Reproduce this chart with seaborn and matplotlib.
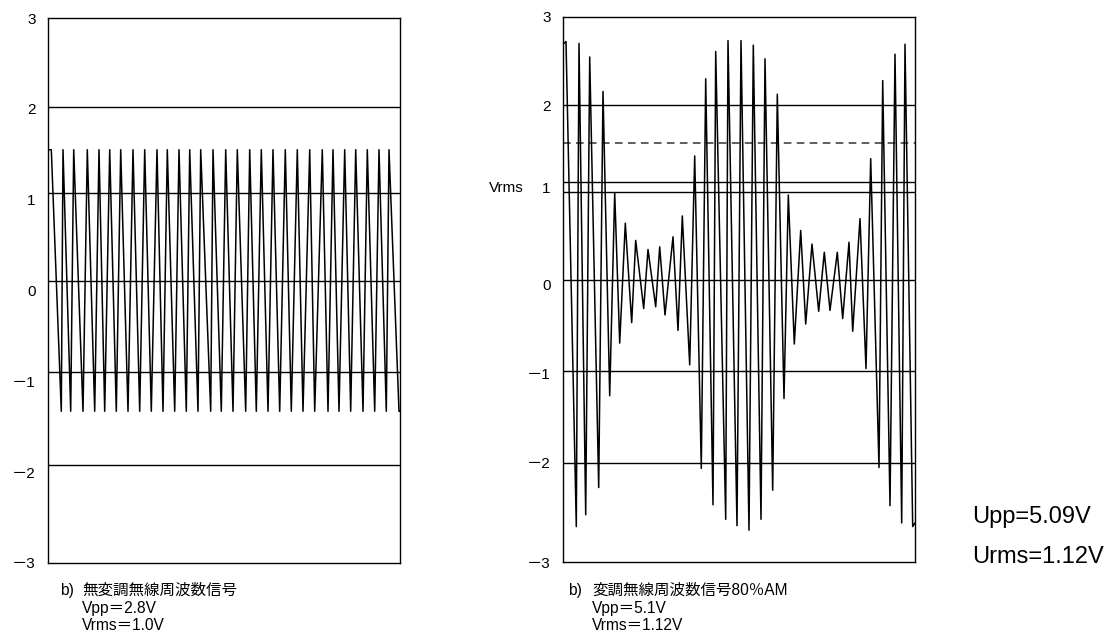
import matplotlib
matplotlib.use("Agg")
import matplotlib.pyplot as plt
import pandas as pd
import seaborn as sns

# a) unmodulated carrier: vertices of the trace (time in arbitrary units 0..352)
left_t = [0, 3.3, 13.3, 15, 22.7, 25.7, 35, 39.3, 46.7, 51, 56.7, 61.7, 68.3, 72.7,
          80, 85, 91.7, 96.7, 103.3, 109, 115, 119.3, 126.7, 131, 138.3, 141.7,
          150, 152.7, 162.7, 165, 173.3, 177.7, 185, 189.3, 197.7, 201.7, 208.3,
          213.3, 220, 225, 231.7, 237.3, 243.3, 249.3, 255, 261.7, 266.7, 274.3,
          280, 285, 291, 296.7, 302.7, 307.7, 315, 319.3, 326.7, 331, 338.3, 341,
          351, 352]
left_v = [1.55, 1.55,
          -1.33, 1.55, -1.33, 1.55, -1.33, 1.55, -1.33, 1.55, -1.33, 1.55,
          -1.33, 1.55, -1.33, 1.55, -1.33, 1.55, -1.33, 1.55, -1.33, 1.55,
          -1.33, 1.55, -1.33, 1.55, -1.33, 1.55, -1.33, 1.55, -1.33, 1.55,
          -1.33, 1.55, -1.33, 1.55, -1.33, 1.55, -1.33, 1.55, -1.33, 1.55,
          -1.33, 1.55, -1.33, 1.55, -1.33, 1.55, -1.33, 1.55, -1.33, 1.55,
          -1.33, 1.55, -1.33, 1.55, -1.33, 1.55, -1.33, 1.55,
          -1.33, -1.33]

# b) 80% AM carrier
right_t = [0, 3, 13.3, 16, 22.7, 26.7, 35.7, 40, 46.7, 51.7, 56.7, 62.3, 68.7, 72.7,
           80.7, 85, 92.7, 96.7, 102, 110, 115, 119.3, 126.7, 131.7, 138.3, 142.7,
           150, 152.7, 162.7, 165, 174, 178, 186, 190.3, 198, 202, 209.7, 214.3,
           221, 225.3, 231.3, 237.7, 242.7, 249, 255.7, 261.3, 267, 274.3, 279.7,
           286, 289.7, 297, 303, 307.7, 316, 319.7, 327, 332, 338.7, 342, 349.7, 352]
right_v = [2.70, 2.73, -2.61, 2.71, -2.48, 2.56, -2.18, 2.18, -1.17, 1.065, -0.59, 0.73,
           -0.365, 0.54, -0.21, 0.44, -0.19, 0.47, -0.28, 0.58, -0.45, 0.81, -0.83,
           1.47, -1.97, 2.32, -2.37, 2.62, -2.53, 2.74, -2.60, 2.74, -2.65, 2.69,
           -2.53, 2.54, -2.21, 2.15, -1.20, 1.04, -0.60, 0.65, -0.38, 0.50, -0.24,
           0.41, -0.23, 0.41, -0.32, 0.52, -0.46, 0.78, -0.87, 1.44, -1.96, 2.30,
           -2.38, 2.59, -2.57, 2.70, -2.61, -2.57]

left_grid = [2.02, 1.07, 0.10, -0.90, -1.92]
right_grid = [2.03, 1.18, 1.07, 0.10, -0.90, -1.91]
right_dashed = 1.615

left_ticks = [3, 2, 1, 0, -1, -2, -3]
right_ticks = [3, 2.03, 1.12, 0.05, -0.93, -1.91, -3]
tick_labels = ["3", "2", "1", "0", "－1", "－2", "－3"]

left_caption = ["無変調無線周波数信号", "Vpp＝2.8V", "Vrms＝1.0V"]
right_caption = ["変調無線周波数信号80％AM", "Vpp＝5.1V", "Vrms＝1.12V"]
side_notes = ["Upp=5.09V", "Urms=1.12V"]

sns.set_style("white")
plt.rcParams['font.family'] = ['Liberation Sans', 'Noto Sans CJK JP']
plt.rcParams['text.color'] = 'black'
plt.rcParams['ytick.color'] = 'black'

W, H = 1120, 634
fig = plt.figure(figsize=(W / 100, H / 100), dpi=100)


def px_axes(x0, y0, x1, y1):
    return fig.add_axes([x0 / W, 1 - y1 / H, (x1 - x0) / W, (y1 - y0) / H])


ax1 = px_axes(48, 18, 400, 563)
ax2 = px_axes(563, 17, 915, 562)

for ax, t, v, grid, ticks in [(ax1, left_t, left_v, left_grid, left_ticks),
                              (ax2, right_t, right_v, right_grid, right_ticks)]:
    for g in grid:
        ax.axhline(g, color="black", lw=1.0, zorder=1)
    df = pd.DataFrame({"t": t, "v": v})
    sns.lineplot(data=df, x="t", y="v", sort=False, color="black", lw=1.1, ax=ax, zorder=2)
    ax.set_xlim(0, 352)
    ax.set_ylim(-3, 3)
    ax.set_xticks([])
    ax.set_yticks(ticks)
    ax.set_yticklabels(tick_labels)
    ax.tick_params(axis="y", length=0, pad=9, labelsize=11, labelcolor="black")
    ax.set_xlabel("")
    ax.set_ylabel("")
    for s in ax.spines.values():
        s.set_visible(True)
        s.set_color("black")
        s.set_linewidth(1.0)

ax2.axhline(right_dashed, color="#333333", lw=1.1, ls=(0, (5, 3.5)), zorder=1)

fig.text(489 / W, 1 - 188 / H, "Vrms", fontsize=11, va="center", ha="left")

for x_b, x_txt, lines in [(60, 82, left_caption), (568, 592, right_caption)]:
    fig.text(x_b / W, 1 - 590 / H, "b)", fontsize=11.2, va="center", ha="left")
    for i, s in enumerate(lines):
        fig.text(x_txt / W, 1 - (590 + 18 * i) / H, s, fontsize=11.2, va="center", ha="left")

for i, s in enumerate(side_notes):
    fig.text(972 / W, 1 - (517 + 40 * i) / H, s, fontsize=17, va="center", ha="left")

fig.savefig("out.png", dpi=100)
